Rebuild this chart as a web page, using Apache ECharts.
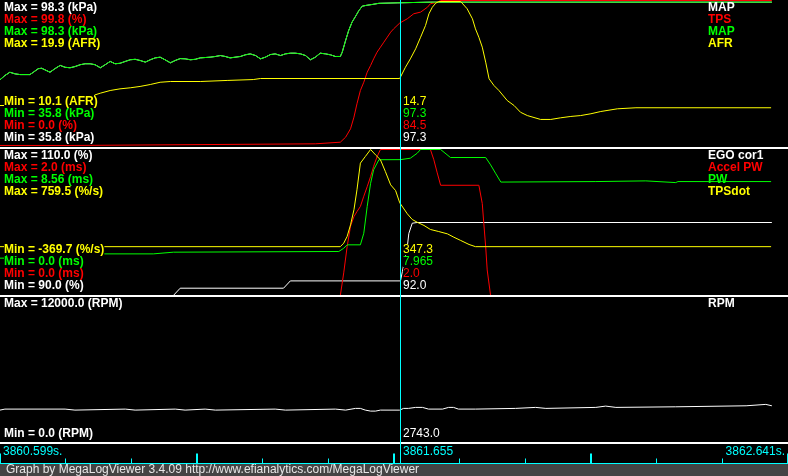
<!DOCTYPE html>
<html><head><meta charset="utf-8">
<script src="https://cdn.jsdelivr.net/npm/echarts@6/dist/echarts.min.js"></script>
<style>html,body{margin:0;padding:0;background:#000;overflow:hidden}#c{width:788px;height:476px}</style>
</head><body><div id="c"></div>
<script>
// ---- time base ----
const startTime = 3860.599;     // s, left edge of view
const spanSeconds = 2.042;      // visible span
const cursorOffset = 1.056;     // cursor at 3861.655 s

// ---- panel 1 data: [elapsed s, value] ----
const mapKpa = [[0,64.6],[.013,66.4],[.026,67.8],[.040,67.1],[.053,66.8],[.079,66.8],[.088,67.8],[.101,69.3],[.110,69.5],[.119,68.8],[.132,67.8],[.145,69.3],[.159,70.7],[.172,69.9],[.185,69.7],[.198,70.2],[.212,71.0],[.225,71.4],[.238,71.4],[.251,71.0],[.265,69.7],[.278,71.0],[.291,72.4],[.304,71.4],[.317,71.6],[.331,72.4],[.344,73.1],[.357,73.3],[.370,72.8],[.384,72.1],[.397,73.1],[.410,73.9],[.423,74.2],[.436,73.1],[.450,71.8],[.463,72.8],[.476,73.6],[.489,73.5],[.503,73.1],[.516,73.3],[.529,73.9],[.555,74.2],[.569,74.5],[.582,74.9],[.595,74.5],[.608,73.9],[.635,74.5],[.648,75.2],[.661,75.6],[.675,74.9],[.688,73.5],[.701,74.2],[.714,75.3],[.727,75.6],[.741,74.9],[.754,75.6],[.767,75.9],[.780,75.9],[.794,75.6],[.807,74.9],[.820,73.1],[.833,74.2],[.846,75.9],[.860,75.6],[.873,75.2],[.886,74.5],[.899,74.5],[.904,76.3],[.913,81.3],[.921,85.5],[.930,89.1],[.939,91.5],[.948,94.0],[.957,95.9],[.970,96.3],[.983,96.6],[1.001,97.1],[1.049,97.3],[1.137,97.6],[2.039,97.6]];
const tpsPct = [[0,1.4],[.198,1.4],[.201,2.5],[.833,2.5],[.836,3.6],[.899,3.6],[.913,7.0],[.926,12.7],[.935,20.6],[.943,29.7],[.952,38.7],[.961,44.3],[.970,51.1],[.979,55.7],[.987,60.2],[.996,64.7],[1.005,68.1],[1.014,71.5],[1.023,74.9],[1.032,78.3],[1.040,80.6],[1.056,84.5],[1.076,87.4],[1.093,90.8],[1.111,91.9],[1.129,95.2],[1.137,97.6],[1.155,98.6],[1.164,99.8],[2.039,99.8]];
const afrRatio = [[0,12.9],[.249,12.9],[.250,13.6],[.265,13.72],[.291,13.9],[.317,14.01],[.344,14.08],[.370,14.17],[.397,14.3],[.423,14.45],[.450,14.5],[.529,14.5],[.600,14.57],[.669,14.63],[.688,14.7],[1.056,14.7],[1.071,15.45],[1.084,16.01],[1.098,16.68],[1.111,17.45],[1.124,18.23],[1.133,19.01],[1.142,19.45],[1.151,19.72],[1.159,19.83],[1.217,19.83],[1.221,19.72],[1.234,19.35],[1.248,18.68],[1.256,18.01],[1.265,17.45],[1.274,16.79],[1.283,15.79],[1.292,14.68],[1.305,14.23],[1.318,13.9],[1.340,13.23],[1.358,12.9],[1.375,12.45],[1.393,12.23],[1.428,11.97],[1.455,11.97],[1.481,12.08],[1.508,12.17],[1.534,12.23],[1.561,12.35],[1.587,12.5],[1.631,12.68],[1.680,12.75],[2.037,12.75]];

// ---- panel 2 data ----
const egoPct = [[0,90],[.458,90],[.476,91],[.749,91],[.767,92],[1.058,92],[1.063,93.3],[1.076,96.7],[1.080,98.5],[1.089,99.9],[1.102,100],[2.039,100]];
const accelPwMs = [[0,0],[.899,0],[.908,0.31],[.917,0.67],[.926,0.95],[.935,1.08],[.943,1.15],[.952,1.22],[.961,1.36],[.970,1.49],[.979,1.63],[.987,1.77],[.996,1.90],[1.005,2.0],[1.137,2.0],[1.146,1.86],[1.155,1.68],[1.164,1.51],[1.265,1.51],[1.274,1.26],[1.278,0.99],[1.283,0.67],[1.287,0.35],[1.296,0],[2.039,0]];
const pwMs = [[0,2.19],[.013,2.19],[.020,2.44],[.405,2.44],[.410,2.54],[.458,2.54],[.463,2.58],[.895,2.58],[.899,2.64],[.908,2.77],[.917,2.97],[.952,2.97],[.961,3.65],[.970,5.22],[.979,6.58],[.987,7.37],[1.001,7.96],[1.058,7.965],[1.084,8.05],[1.102,8.34],[1.111,8.56],[1.164,8.56],[1.190,8.09],[1.283,8.09],[1.296,7.66],[1.309,7.17],[1.323,6.65],[1.574,6.68],[1.579,6.72],[1.706,6.72],[1.711,6.62],[1.785,6.62],[1.791,6.68],[2.037,6.68]];
const tpsDot = [[0,8],[.899,8],[.908,35],[.917,87],[.926,177],[.935,293],[.943,448],[.952,654],[.965,705],[.979,759.5],[.992,718],[1.005,680],[1.018,589],[1.032,486],[1.045,442],[1.056,347.3],[1.076,262],[1.089,218],[1.102,197],[1.120,172],[1.137,141],[1.159,125],[1.182,107],[1.199,81],[1.217,56],[1.239,25],[1.256,8],[2.037,8]];

// ---- panel 3 data ----
const rpm = [[0,2745],[.013,2827],[.172,2827],[.175,2745],[.198,2745],[.201,2827],[.331,2827],[.333,2745],[.357,2745],[.360,2827],[.463,2827],[.466,2745],[.489,2745],[.492,2827],[.542,2827],[.545,2745],[.569,2745],[.571,2827],[.727,2827],[.730,2745],[.754,2745],[.757,2827],[.886,2827],[.889,2745],[.913,2745],[.915,2827],[.939,2885],[.952,2885],[.965,2745],[.979,2663],[.992,2663],[1.005,2745],[1.056,2743],[1.066,2885],[1.079,2885],[1.098,2967],[1.116,2967],[1.132,2827],[1.169,2827],[1.185,2967],[1.198,2967],[1.211,2827],[1.256,2827],[1.259,2885],[1.362,2885],[1.365,2967],[1.415,2967],[1.418,2885],[1.442,2885],[1.444,2967],[1.574,2967],[1.576,3074],[1.600,3074],[1.603,2967],[1.627,2967],[1.629,3016],[1.785,3016],[1.788,3099],[1.971,3099],[1.973,3214],[2.023,3214],[2.026,3099],[2.039,3099]];

// ---- channel names, units, ranges, cursor readouts ----
const panel1Names = ['MAP','TPS','MAP','AFR'];
const panel1Units = ['kPa','%','kPa','AFR'];
const panel1Min = [35.8, 0.0, 35.8, 10.1];
const panel1Max = [98.3, 99.8, 98.3, 19.9];
const panel1Readouts = ['97.3','84.5','97.3','14.7'];
const panel2Names = ['EGO cor1','Accel PW','PW','TPSdot'];
const panel2Units = ['%','ms','ms','%/s'];
const panel2Min = [90.0, 0.0, 0.0, -369.7];
const panel2Max = [110.0, 2.0, 8.56, 759.5];
const panel2Readouts = ['92.0','2.0','7.965','347.3'];
const panel3Names = ['RPM'];
const panel3Units = ['RPM'];
const panel3Min = [0.0];
const panel3Max = [12000.0];
const panel3Readouts = ['2743.0'];

// ---- styling ----
const colors4 = ['#ffffff','#ff0000','#00ff00','#ffff00'];
const CYAN = '#00ffff';
const FB = 'bold 12px "Liberation Sans", Arial, sans-serif';
const FR = '12px "Liberation Sans", Arial, sans-serif';
const PLOT_W = 773;

const panels = [
  {top:0.5, height:147, names:panel1Names, units:panel1Units, mins:panel1Min, maxs:panel1Max, reads:panel1Readouts, data:[mapKpa,tpsPct,mapKpa,afrRatio]},
  {top:149.5, height:146, names:panel2Names, units:panel2Units, mins:panel2Min, maxs:panel2Max, reads:panel2Readouts, data:[egoPct,accelPwMs,pwMs,tpsDot]},
  {top:297.5, height:146, names:panel3Names, units:panel3Units, mins:panel3Min, maxs:panel3Max, reads:panel3Readouts, data:[rpm]}
];

const fmt = v => (Math.round(v*100) % 10 !== 0 ? v.toFixed(2) : v.toFixed(1));

const grid = [], xAxis = [], yAxis = [], series = [], graphics = [];
function addText(x, baseline, text, color, font, z, bg, align) {
  graphics.push({type:'text', x:x, y:baseline - 9.66, z:z, silent:true,
    style:{text:text, fill:color, font:font, lineHeight:11,
      verticalAlign:'top', textVerticalAlign:'top',
      align:align||'left', textAlign:align||'left',
      backgroundColor: bg || 'transparent'}});
}

panels.forEach((p, pi) => {
  grid.push({left:0, top:p.top, width:PLOT_W, height:p.height});
  xAxis.push({gridIndex:pi, type:'value', min:0, max:spanSeconds, show:false});
  const off = pi*148;
  p.data.forEach((d, si) => {
    const yi = yAxis.length;
    yAxis.push({gridIndex:pi, type:'value', min:p.mins[si], max:p.maxs[si], show:false});
    const col = colors4[si];
    series.push({type:'line', xAxisIndex:pi, yAxisIndex:yi, data:d, showSymbol:false, silent:true,
      z:2+2*si, lineStyle:{color:col, width:1}, animation:false});
    const zl = 3+2*si;
    addText(4, 12+12*si+off, 'Max = '+fmt(p.maxs[si])+' ('+p.units[si]+')', col, FB, zl, '#000');
    addText(4, 142-12*si+off, 'Min = '+fmt(p.mins[si])+' ('+p.units[si]+')', col, FB, zl, '#000');
    addText(708, 12+12*si+off, p.names[si], col, FB, 20, null);
    addText(403, 142-12*si+off, p.reads[si], col, FR, 30, '#000');
  });
});

// time strip axis (ticks)
grid.push({left:0, top:444, width:788, height:19.5});
xAxis.push({gridIndex:3, type:'value', min:0, max:2.0816, interval:0.5204,
  axisLine:{show:true, onZero:false, lineStyle:{color:CYAN, width:1}},
  axisTick:{show:true, inside:true, length:10, lineStyle:{color:CYAN, width:2}},
  minorTick:{show:true, splitNumber:3, length:5, lineStyle:{color:CYAN, width:1}},
  axisLabel:{show:false}, splitLine:{show:false}});
yAxis.push({gridIndex:3, type:'value', show:false, min:0, max:1});

// separators
[[147,2],[295,2],[442,2]].forEach(s => graphics.push({type:'rect', silent:true, z:40,
  shape:{x:0, y:s[0], width:788, height:s[1]}, style:{fill:'#ffffff'}}));
// footer
graphics.push({type:'rect', silent:true, z:1, shape:{x:0, y:464, width:788, height:12}, style:{fill:'#444444'}});
addText(6, 474, 'Graph by MegaLogViewer 3.4.09 http://www.efianalytics.com/MegaLogViewer', '#e6e6e6', FR, 45, null);
// time labels
addText(3, 455.5, startTime.toFixed(3)+'s.', CYAN, FR, 45, null);
addText(403, 455.5, (startTime+cursorOffset).toFixed(3), CYAN, FR, 45, null);
addText(785, 455.5, (startTime+spanSeconds).toFixed(3)+'s.', CYAN, FR, 45, null, 'right');

const chart = echarts.init(document.getElementById('c'), null, {renderer:'canvas'});
chart.setOption({backgroundColor:'#000000', animation:false, grid, xAxis, yAxis, series});
const cx = Math.round(chart.convertToPixel({xAxisIndex:0}, cursorOffset)) + 0.5;
graphics.push({type:'line', silent:true, z:50, shape:{x1:cx, y1:0, x2:cx, y2:463}, style:{stroke:CYAN, lineWidth:1}});
chart.setOption({graphic: graphics});
</script></body></html>
